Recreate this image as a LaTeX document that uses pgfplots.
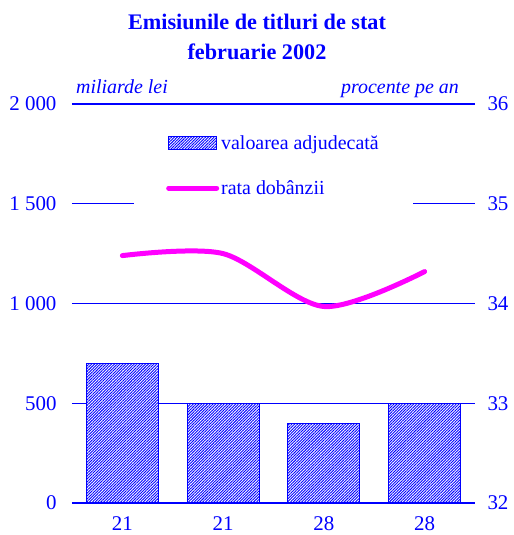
\documentclass[border=0pt]{standalone}
\usepackage{pgfplots}
\pgfplotsset{compat=1.18}
\usepackage{fontspec}
\setmainfont{Liberation Serif}
\usetikzlibrary{patterns.meta}
\definecolor{tb}{RGB}{0,0,255}
\definecolor{mag}{RGB}{255,0,255}
\pgfplotsset{
 common/.style={scale only axis, width=403bp, height=399bp, xmin=-0.5, xmax=3.5,
   axis line style={draw=none}, major tick length=0pt, tick style={draw=none},
   tick label style={font=\fontsize{21}{24}\selectfont, text=tb},
   /pgf/number format/assume math mode=true},
 barsty/.style={draw=tb, line width=1.1bp, fill=white,
   postaction={pattern={Lines[angle=45,distance=2bp,line width=0.9bp]}, pattern color=tb}},
 barleg/.style={legend image code/.code={\draw[##1] (0bp,-6.5bp) rectangle (48bp,6.5bp);}},
 lineleg/.style={legend image code/.code={\draw[##1] (0bp,0bp) -- (48bp,0bp);}},
}
\begin{document}
\begin{tikzpicture}
\useasboundingbox (-72bp,-32bp) rectangle (442bp,503bp);
\begin{axis}[common, ymin=0, ymax=2000, ytick={0,500,1000,1500,2000},
  yticklabels={0,500,1 000,1 500,2 000},
  ymajorgrids, major grid style={color=tb, line width=1.2bp},
  xtick={0,1,2,3}, xticklabels={21,21,28,28},
  yticklabel style={xshift=-12bp}, xticklabel style={yshift=-10bp}]
\addplot[ybar, bar width=72bp, barsty] coordinates {(0,700) (1,500) (2,400) (3,500)};
\end{axis}
\begin{axis}[common, ymin=32, ymax=36, ytick={32,33,34,35,36},
  yticklabel pos=right, hide x axis, yticklabel style={xshift=9bp},
  legend cell align=left,
  legend style={at={(0.1538,0.9624)}, anchor=north west, draw=none, fill=white,
    inner xsep=32bp, inner ysep=14bp, row sep=26bp, column sep=0bp,
    font=\fontsize{20}{24}\selectfont, text=tb}]
\addlegendimage{barsty, barleg}
\addlegendentry{valoarea adjudecată}
\addplot[mag, line width=5bp, smooth, line cap=round, lineleg]
  coordinates {(0,34.48) (1,34.50) (2,33.97) (3,34.32)};
\addlegendentry{rata dobânzii}
\end{axis}
\node[font=\fontsize{22.3}{30}\selectfont\bfseries, text=tb, anchor=base, inner sep=0] at (185bp,473bp) {Emisiunile de titluri de stat};
\node[font=\fontsize{22.3}{30}\selectfont\bfseries, text=tb, anchor=base, inner sep=0] at (185bp,443bp) {februarie 2002};
\node[font=\fontsize{20}{24}\selectfont\itshape, text=tb, anchor=base west, inner sep=0] at (4bp,409bp) {miliarde lei};
\node[font=\fontsize{20}{24}\selectfont\itshape, text=tb, anchor=base east, inner sep=0] at (387bp,409bp) {procente pe an};
\end{tikzpicture}
\end{document}
